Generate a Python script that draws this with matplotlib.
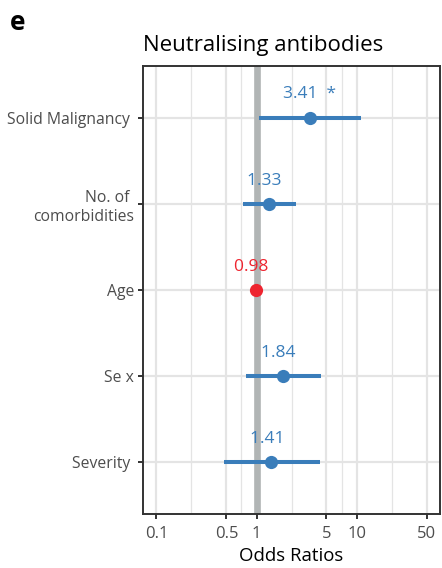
import matplotlib
matplotlib.use("Agg")
import matplotlib.pyplot as plt
import numpy as np

plt.rcParams['font.family'] = ['Open Sans', 'DejaVu Sans']

# odds ratios with 95% CI, top row first
variables = ['Solid Malignancy ', 'No. of \ncomorbidities', 'Age', 'Se x', 'Severity ']
odds_ratio = [3.41, 1.33, 0.98, 1.84, 1.41]
ci_low = [1.07, 0.73, 0.96, 0.78, 0.475]
ci_high = [11.0, 2.49, 1.00, 4.43, 4.30]
signif = ['*', '', '', '', '']
x_ticks = [0.1, 0.5, 1, 5, 10, 50]
x_ticklabels = ['0.1', '0.5', '1', '5', '10', '50']

blue = '#3A7DBA'
red = '#EE2530'
grid_col = '#E4E4E4'
txt_gray = '#4D4D4D'

W, H = 442, 568
fig = plt.figure(figsize=(W / 100, H / 100), dpi=100)
ax = fig.add_axes([143 / W, 1 - 514 / H, (440 - 143) / W, (514 - 66) / H])

n = len(variables)
ypos = np.arange(n, 0, -1)

ax.set_xscale('log')
lo, hi = np.log10(0.1), np.log10(50)
pad = 0.05 * (hi - lo)
ax.set_xlim(10 ** (lo - pad), 10 ** (hi + pad))
ax.set_ylim(0.4, n + 0.6)

# grid: majors at the breaks, minors halfway in log space
for v in x_ticks:
    ax.axvline(v, color=grid_col, lw=1.6, zorder=0)
for a, b in zip(x_ticks[:-1], x_ticks[1:]):
    ax.axvline(np.sqrt(a * b), color=grid_col, lw=0.9, zorder=0)
for y in ypos:
    ax.axhline(y, color=grid_col, lw=1.6, zorder=0)

ax.axvline(1, color='#B1B5B5', lw=4.8, zorder=1)

for i, y in enumerate(ypos):
    col = blue if ci_low[i] > 1 or ci_high[i] < 1 or odds_ratio[i] > 1 else red
    ax.plot([ci_low[i], ci_high[i]], [y, y], color=col, lw=2.9,
            solid_capstyle='butt', zorder=2)
    ax.plot(odds_ratio[i], y, 'o', color=col, ms=9.5, mec='none', zorder=3)
    ax.text(odds_ratio[i], y + 0.27, f'{odds_ratio[i]:.2f}  {signif[i]}',
            color=col, fontsize=12.5, ha='center', va='center', zorder=4)

ax.set_yticks(ypos)
ax.set_yticklabels(variables, fontsize=11.3, color=txt_gray, ha='right',
                   multialignment='right', linespacing=1.25)
ax.set_xticks(x_ticks)
ax.set_xticklabels(x_ticklabels, fontsize=12, color=txt_gray)
ax.xaxis.set_minor_locator(matplotlib.ticker.NullLocator())
ax.tick_params(axis='both', length=3.5, width=1.4, color='#333333', pad=3)
ax.tick_params(axis='x', pad=5)

for s in ax.spines.values():
    s.set_color('#333333')
    s.set_linewidth(1.4)

ax.set_xlabel('Odds Ratios', fontsize=13.4, labelpad=4)
ax.set_title('Neutralising antibodies', fontsize=16, loc='left', pad=11)
fig.text(10 / W, 1 - 22 / H, 'e', fontsize=19, fontweight='bold', va='center')

fig.savefig('out.png', dpi=100)
